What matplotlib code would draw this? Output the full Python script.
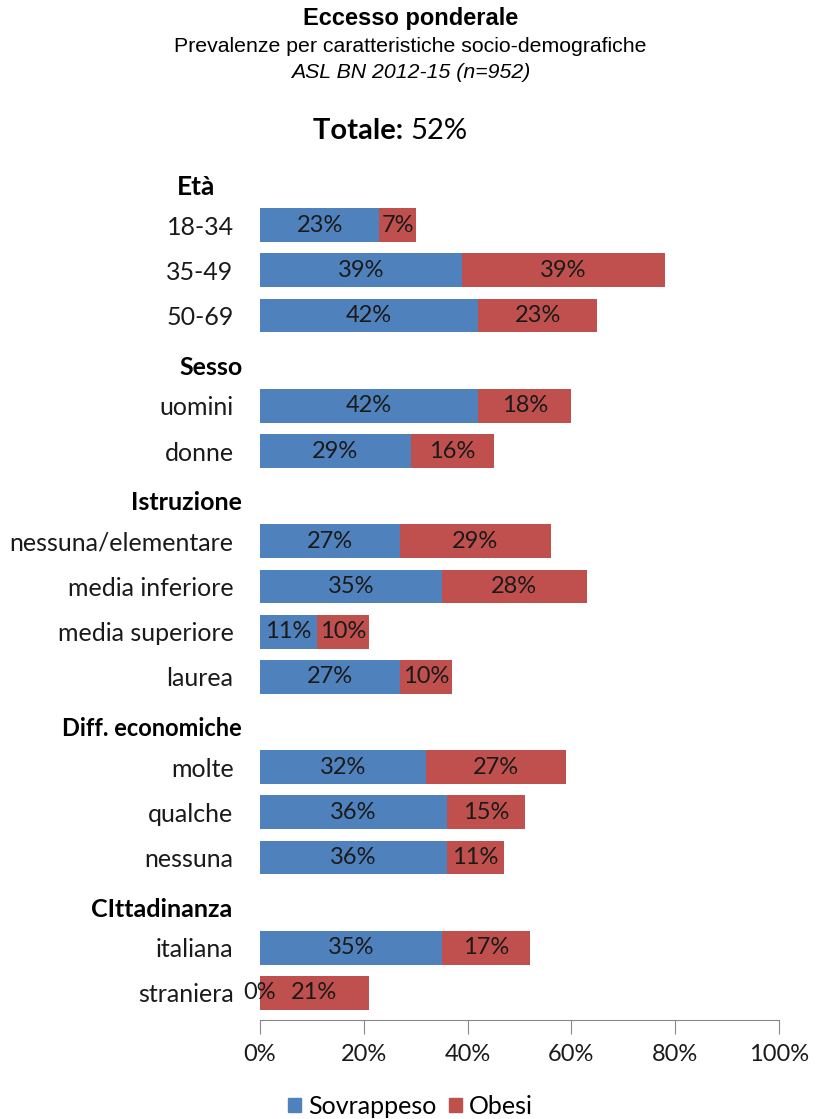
import matplotlib.pyplot as plt
from matplotlib.patches import Patch

plt.rcParams['font.family'] = ['Lato', 'DejaVu Sans']

# rows from top to bottom, each group preceded by its header slot
headers = ['Età', 'Sesso', 'Istruzione', 'Diff. economiche', 'CIttadinanza']
groups = [
    ['18-34', '35-49', '50-69'],
    ['uomini', 'donne'],
    ['nessuna/elementare', 'media inferiore', 'media superiore', 'laurea'],
    ['molte', 'qualche', 'nessuna'],
    ['italiana', 'straniera'],
]
sovrappeso = [23, 39, 42, 42, 29, 27, 35, 11, 27, 32, 36, 36, 35, 0]
obesi = [7, 39, 23, 18, 16, 29, 28, 10, 10, 27, 15, 11, 17, 21]
totale = 52

blue = '#4F81BD'
red = '#C0504D'

# build slot positions
labels, pos, head_pos = [], [], []
slot = 0
for h, g in zip(headers, groups):
    head_pos.append(slot)
    slot += 1
    for c in g:
        labels.append(c)
        pos.append(slot)
        slot += 1

fig = plt.figure(figsize=(8.21, 11.19), dpi=100)
ax = fig.add_axes([260 / 821, 1 - 1020 / 1119, 519 / 821, 867 / 1119])

ax.barh(pos, sovrappeso, height=0.75, color=blue, label='Sovrappeso')
ax.barh(pos, obesi, left=sovrappeso, height=0.75, color=red, label='Obesi')

for p, s, o in zip(pos, sovrappeso, obesi):
    ax.text(s / 2, p, f'{s}%', ha='center', va='center', fontsize=17, color='#1a1a1a')
    ax.text(s + o / 2, p, f'{o}%', ha='center', va='center', fontsize=17, color='#1a1a1a')

ax.set_ylim(slot - 1 + 0.6, -0.6)
ax.set_xlim(0, 100)
ax.set_yticks(pos)
ax.set_yticklabels(labels, fontsize=18, color='#1a1a1a')
ax.tick_params(axis='y', length=0, pad=19)
ax.set_xticks(range(0, 101, 20))
ax.set_xticklabels([f'{t}%' for t in range(0, 101, 20)], fontsize=17, color='#1a1a1a')
ax.tick_params(axis='x', length=10, color='#888888', pad=7, direction='out')
for s in ['top', 'right', 'left']:
    ax.spines[s].set_visible(False)
ax.spines['bottom'].set_color('#888888')

# group headers
head_right = [215, 243, 242, 242, 232]
head_size = [19, 18, 18, 17, 18]
for h, p, xr, fs in zip(headers, head_pos, head_right, head_size):
    xa = (xr - 260) / 519
    ax.text(xa, p + 0.15, h, transform=ax.get_yaxis_transform(), ha='right',
            va='center', fontsize=fs, fontweight='bold', color='black')

fig.text(0.5, 1 - 19 / 1119, 'Eccesso ponderale', ha='center', va='center',
         fontsize=17, fontweight='bold', family='Liberation Sans')
fig.text(0.5, 1 - 46 / 1119, 'Prevalenze per caratteristiche socio-demografiche',
         ha='center', va='center', fontsize=15.3, family='Liberation Sans')
fig.text(0.5, 1 - 73 / 1119, 'ASL BN 2012-15 (n=952)', ha='center', va='center',
         fontsize=15.3, style='italic', family='Liberation Sans')

fig.text(0.5, 1 - 131 / 1119, 'Totale: ', ha='right', va='center', fontsize=21,
         fontweight='bold')
fig.text(0.5, 1 - 131 / 1119, f'{totale}%', ha='left', va='center', fontsize=21)

handles = [Patch(color=blue, label='Sovrappeso'), Patch(color=red, label='Obesi')]
fig.legend(handles=handles, loc='center', bbox_to_anchor=(0.5, 1 - 1106 / 1119),
           ncol=2, frameon=False, fontsize=18, handlelength=0.5, handleheight=0.5,
           handletextpad=0.3, columnspacing=0.5)

plt.savefig('out.png', dpi=100)
